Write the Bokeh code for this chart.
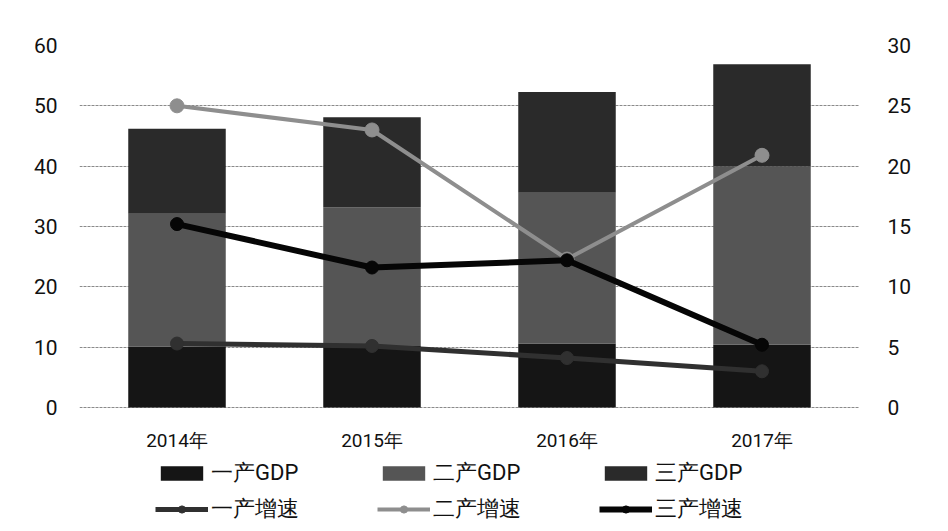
from bokeh.plotting import figure
from bokeh.models import (Range1d, LinearAxis, FixedTicker, Legend, LegendItem, FactorRange)
from bokeh.core.properties import value
from bokeh.embed import file_html
from bokeh.resources import INLINE

years = ["2014年", "2015年", "2016年", "2017年"]
gdp1 = [10.1, 10.2, 10.6, 10.4]
gdp2 = [22.0, 23.0, 25.0, 29.6]
gdp3 = [14.1, 14.9, 16.7, 16.9]
growth1 = [5.3, 5.1, 4.1, 3.0]
growth2 = [25.0, 23.0, 12.3, 20.9]
growth3 = [15.2, 11.6, 12.2, 5.2]
left_ticks = [0, 10, 20, 30, 40, 50, 60]
right_ticks = [0, 5, 10, 15, 20, 25, 30]

bar_names = ["一产GDP", "二产GDP", "三产GDP"]
line_names = ["一产增速", "二产增速", "三产增速"]
bar_colors = ["#151515", "#555555", "#2a2a2a"]
line_colors = ["#303030", "#8e8e8e", "#060606"]

FONT = "Roboto"

# frame extends below the zero line to host category labels and legend
PX_PER_UNIT = 362 / 60.0
EXTRA_PX = 118
ymin = -EXTRA_PX / PX_PER_UNIT

p = figure(x_range=FactorRange(*years), y_range=Range1d(ymin, 60),
           frame_width=780, frame_height=480, x_axis_location=None,
           output_backend="svg", toolbar_location=None,
           min_border_left=79, min_border_right=73, min_border_top=45,
           min_border_bottom=0)
p.outline_line_color = None
p.background_fill_color = "white"
p.border_fill_color = "white"

p.extra_y_ranges = {"right": Range1d(ymin / 2.0, 30)}

src = {"years": years, bar_names[0]: gdp1, bar_names[1]: gdp2, bar_names[2]: gdp3}
bars = p.vbar_stack(bar_names, x="years", width=0.5, source=src,
                    color=bar_colors, line_color=None)

series = [growth1, growth2, growth3]
widths = [5, 4, 6]
sizes = [13, 14, 13]
line_renderers = []
for i in [0, 1, 2]:
    ln = p.line(years, series[i], y_range_name="right", line_color=line_colors[i],
                line_width=widths[i])
    mk = p.scatter(years, series[i], y_range_name="right", size=sizes[i],
                   fill_color=line_colors[i], line_color=line_colors[i])
    line_renderers.append((ln, mk))

# category labels (x axis), placed 33px below zero line
label_y = -33 / PX_PER_UNIT
p.text(x=years, y=[label_y] * len(years), text=years,
       text_font=value(FONT), text_font_size="19px", text_color="#111111",
       text_align="center", text_baseline="middle")

# axes
p.yaxis.ticker = FixedTicker(ticks=left_ticks)
p.yaxis.axis_line_color = None
p.yaxis.major_tick_line_color = None
p.yaxis.minor_tick_line_color = None
p.yaxis.major_label_text_font = FONT
p.yaxis.major_label_text_font_size = "21px"
p.yaxis.major_label_text_color = "#111111"
p.yaxis.major_label_standoff = 16

ry = LinearAxis(y_range_name="right", ticker=FixedTicker(ticks=right_ticks))
ry.axis_line_color = None
ry.major_tick_line_color = None
ry.minor_tick_line_color = None
ry.major_label_text_font = FONT
ry.major_label_text_font_size = "21px"
ry.major_label_text_color = "#111111"
ry.major_label_standoff = 22
p.add_layout(ry, "right")

p.xgrid.grid_line_color = None
p.ygrid.grid_line_color = "#8a8a8a"
p.ygrid.grid_line_width = 1
p.ygrid.grid_line_dash = "3 1"

items = []
for i in range(3):
    items.append(LegendItem(label=bar_names[i], renderers=[bars[i]]))
for i in range(3):
    items.append(LegendItem(label=line_names[i], renderers=list(line_renderers[i])))

legend = Legend(items=items, ncols=3, orientation="horizontal", location=(76, 1),
                label_text_font=FONT, label_text_font_size="22px",
                label_text_color="#111111",
                glyph_width=53, glyph_height=18, label_standoff=3,
                label_width=160, spacing=6, padding=0, margin=0,
                border_line_color=None, background_fill_alpha=0)
p.add_layout(legend, "center")

open("out.html", "w").write(file_html(p, INLINE))
